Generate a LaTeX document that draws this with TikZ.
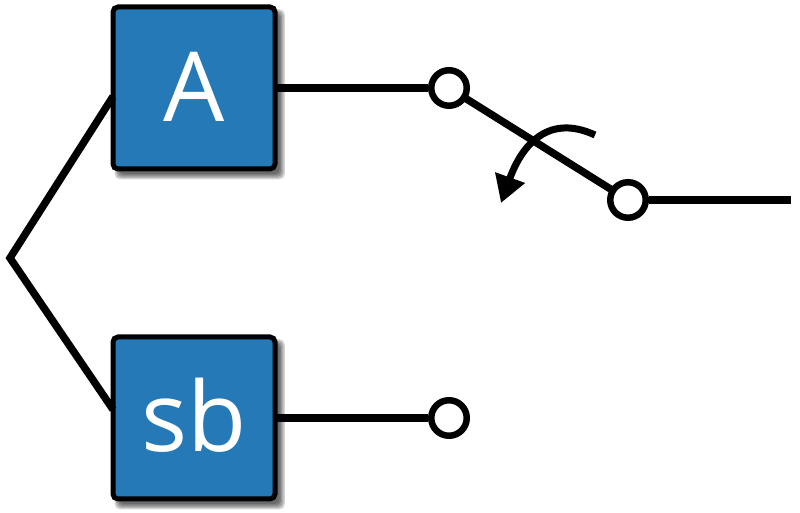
\documentclass[tikz,border=0pt]{standalone}
\usepackage{fontspec}
\setmainfont{Open Sans}
\usetikzlibrary{arrows.meta,shadows}
\tikzset{
	softlayer/.style={general shadow={fill=black, opacity=0.16, shadow xshift=0.11cm, shadow yshift=-0.12cm, shadow scale=#1}},
	blockbox/.style={draw=black, fill=blockblue, line width=0.1cm, rounded corners=0.1cm, minimum size=3.24cm, inner sep=0pt, outer sep=0pt, text=white,
		font=\fontsize{55}{55}\selectfont, text height=1.36cm, text depth=0pt,
		softlayer=1.05, softlayer=1.035, softlayer=1.02, softlayer=1.005, softlayer=0.99},
	contact/.style={circle, draw=black, fill=white, line width=0.13cm, minimum size=0.71cm, inner sep=0pt},
	wire/.style={line width=0.15cm, draw=black},
}
\definecolor{blockblue}{HTML}{2479B6}
\begin{document}
\begin{tikzpicture}
	%%%%% START %%%%%
	\useasboundingbox (0, 0) rectangle (16, 10.26);

	\node[blockbox] (blockA) at (3.88, 8.5) {A};
	\node[blockbox] (blockB) at (3.88, 1.9) {sb};

	\coordinate (fork) at (0.2, 5.1);
	\coordinate (lineEnd) at (15.82, 6.26);
	\coordinate (leverStart) at (11.9, 7.56);
	\coordinate (leverTip) at (10.02, 6.2);

	% contacts go on top of the switch blade
	\draw[wire] (8.98, 8.5) -- (12.56, 6.26);
	\node[contact] (contactA) at (8.98, 8.5) {};
	\node[contact] (contactOut) at (12.56, 6.26) {};
	\node[contact] (contactB) at (8.98, 1.9) {};

	\draw[wire, line join=miter] (blockA.186) -- (fork) -- (blockB.174);
	\draw[wire] (blockA.east) -- (contactA.west);
	\draw[wire] (blockB.east) -- (contactB.west);
	\draw[wire] (contactOut.east) -- (lineEnd);

	\draw[wire, line width=0.14cm, -{Triangle[length=0.54cm, width=0.6cm]}] (leverStart) .. controls (10.9, 8.02) and (10.4, 7.26) .. (leverTip);
	%%%%% END %%%%%
\end{tikzpicture}
\end{document}
